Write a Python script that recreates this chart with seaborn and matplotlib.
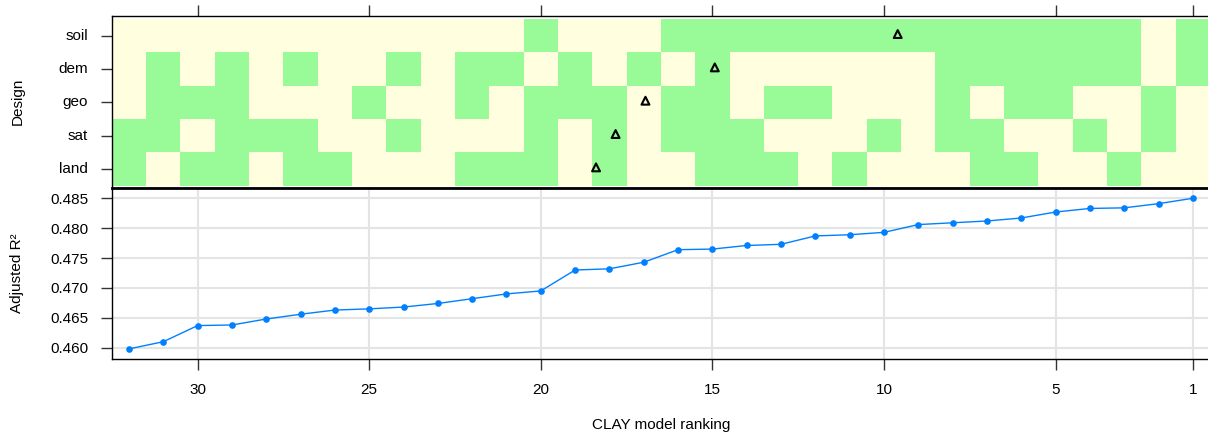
import matplotlib
matplotlib.use("Agg")
import matplotlib.pyplot as plt
import numpy as np
import pandas as pd
import seaborn as sns
from matplotlib.colors import ListedColormap

# ---- data ---------------------------------------------------------------
ranks = list(range(32, 0, -1))          # model ranking, worst (32) to best (1)

adj_r2 = [0.4598, 0.4610, 0.4637, 0.4638, 0.4648, 0.4656, 0.4663, 0.4665,
          0.4668, 0.4674, 0.4682, 0.4690, 0.4695, 0.4730, 0.4732, 0.4743,
          0.4764, 0.4765, 0.4771, 0.4773, 0.4787, 0.4789, 0.4793, 0.4806,
          0.4809, 0.4812, 0.4817, 0.4827, 0.4833, 0.4834, 0.4841, 0.4850]

covariates = ["soil", "dem", "geo", "sat", "land"]

# 1 = covariate group included in the model (same order as `ranks`)
soil = [0, 0, 0, 0, 0, 0, 0, 0, 0, 0, 0, 0, 1, 0, 0, 0,
        1, 1, 1, 1, 1, 1, 1, 1, 1, 1, 1, 1, 1, 1, 0, 1]
dem  = [0, 1, 0, 1, 0, 1, 0, 0, 1, 0, 1, 1, 0, 1, 0, 1,
        0, 1, 0, 0, 0, 0, 0, 0, 1, 1, 1, 1, 1, 1, 0, 1]
geo  = [0, 1, 1, 1, 0, 0, 0, 1, 0, 0, 1, 0, 1, 1, 1, 0,
        1, 1, 0, 1, 1, 0, 0, 0, 1, 0, 1, 1, 0, 0, 1, 0]
sat  = [1, 1, 0, 1, 1, 1, 0, 0, 1, 0, 0, 0, 1, 0, 1, 0,
        1, 1, 1, 0, 0, 0, 1, 0, 1, 1, 0, 0, 1, 0, 1, 0]
land = [1, 0, 1, 1, 0, 1, 1, 0, 0, 0, 1, 1, 1, 0, 1, 0,
        0, 1, 1, 1, 0, 1, 0, 0, 0, 1, 1, 0, 0, 1, 0, 0]

# mean ranking of the models that include each covariate group
mean_rank = [9.60, 14.93, 16.95, 17.82, 18.39]

rank_ticks = [30, 25, 20, 15, 10, 5, 1]
r2_ticks = [0.460, 0.465, 0.470, 0.475, 0.480, 0.485]

# ---- style --------------------------------------------------------------
sns.set_style("white")
plt.rcParams["font.family"] = ["Liberation Sans", "DejaVu Sans"]
plt.rcParams["font.size"] = 11
plt.rcParams["text.color"] = "black"
plt.rcParams["axes.labelcolor"] = "black"
plt.rcParams["xtick.color"] = "black"
plt.rcParams["ytick.color"] = "black"

cream = "#FFFFE0"
green = "#98FB98"
blue = "#0080FF"

W, H = 1208, 438
fig = plt.figure(figsize=(W / 100, H / 100), dpi=100)

x0, x1 = 111.8, 1210.0
y_top, y_mid, y_bot = 15.7, 187.7, 359.0
ax_top = fig.add_axes([x0 / W, 1 - y_mid / H, (x1 - x0) / W, (y_mid - y_top) / H])
ax_bot = fig.add_axes([x0 / W, 1 - y_bot / H, (x1 - x0) / W, (y_bot - y_mid) / H])

# ---- design matrix (top panel) -------------------------------------------
design = pd.DataFrame([soil, dem, geo, sat, land], index=covariates, columns=ranks)
sns.heatmap(design, ax=ax_top, cmap=ListedColormap([cream, green]),
            vmin=0, vmax=1, cbar=False, xticklabels=False, yticklabels=True)

ncol = len(ranks)
to_col = lambda r: (ranks[0] - r) + 0.5   # rank -> heatmap column centre

ax_top.scatter([to_col(r) for r in mean_rank],
               [i + 0.45 for i in range(len(covariates))],
               marker="^", s=32, facecolors="none", edgecolors="black",
               linewidths=1.5, zorder=3)

ax_top.set_xlim(0, ncol)
ax_top.set_ylim(len(covariates) + 0.06, -0.1)
ax_top.xaxis.tick_top()
ax_top.set_xticks([to_col(r) for r in rank_ticks])
ax_top.set_xticklabels([])
ax_top.set_yticks([i + 0.5 for i in range(len(covariates))])
ax_top.set_yticklabels(covariates, rotation=0)
ax_top.tick_params(axis="both", direction="out", length=8, width=1,
                   color="#333333", labelcolor="black", pad=9, labelsize=11)
ax_top.tick_params(axis="y", left=True)
ax_top.tick_params(axis="x", top=True, bottom=False)
ax_top.set_xlabel("")
ax_top.set_ylabel("Design", fontsize=11, color="black")
ax_top.yaxis.set_label_coords(-0.079, 0.5)
for side, sp in ax_top.spines.items():
    sp.set_visible(side != "right")
    sp.set_color("black")
    sp.set_linewidth(1.0)

# ---- adjusted R2 (bottom panel) ------------------------------------------
sns.lineplot(x=ranks, y=adj_r2, ax=ax_bot, color=blue, linewidth=1,
             marker="o", markersize=4.8, markeredgewidth=0, zorder=3)
ax_bot.set_xlim(32.5, 0.5)
ax_bot.set_ylim(0.45811, 0.48677)
ax_bot.set_xticks(rank_ticks)
ax_bot.set_xticklabels([str(t) for t in rank_ticks])
ax_bot.set_yticks(r2_ticks)
ax_bot.set_yticklabels([f"{t:.3f}" for t in r2_ticks])
ax_bot.grid(True, color="#E4E4E4", linewidth=1.5)
ax_bot.set_axisbelow(True)
ax_bot.tick_params(axis="both", direction="out", length=8, width=1,
                   color="#333333", labelcolor="black", labelsize=11)
ax_bot.tick_params(axis="y", left=True, pad=9)
ax_bot.tick_params(axis="x", bottom=True, pad=9)
ax_bot.set_xlabel("CLAY model ranking", fontsize=11, color="black")
ax_bot.xaxis.set_label_coords(0.5, -0.345)
ax_bot.set_ylabel("Adjusted R²", fontsize=11, color="black")
ax_bot.yaxis.set_label_coords(-0.080, 0.5)
for side, sp in ax_bot.spines.items():
    sp.set_visible(side != "right")
    sp.set_color("black")
    sp.set_linewidth(1.0)
ax_bot.spines["top"].set_linewidth(2.0)

fig.savefig("out.png", dpi=100)
